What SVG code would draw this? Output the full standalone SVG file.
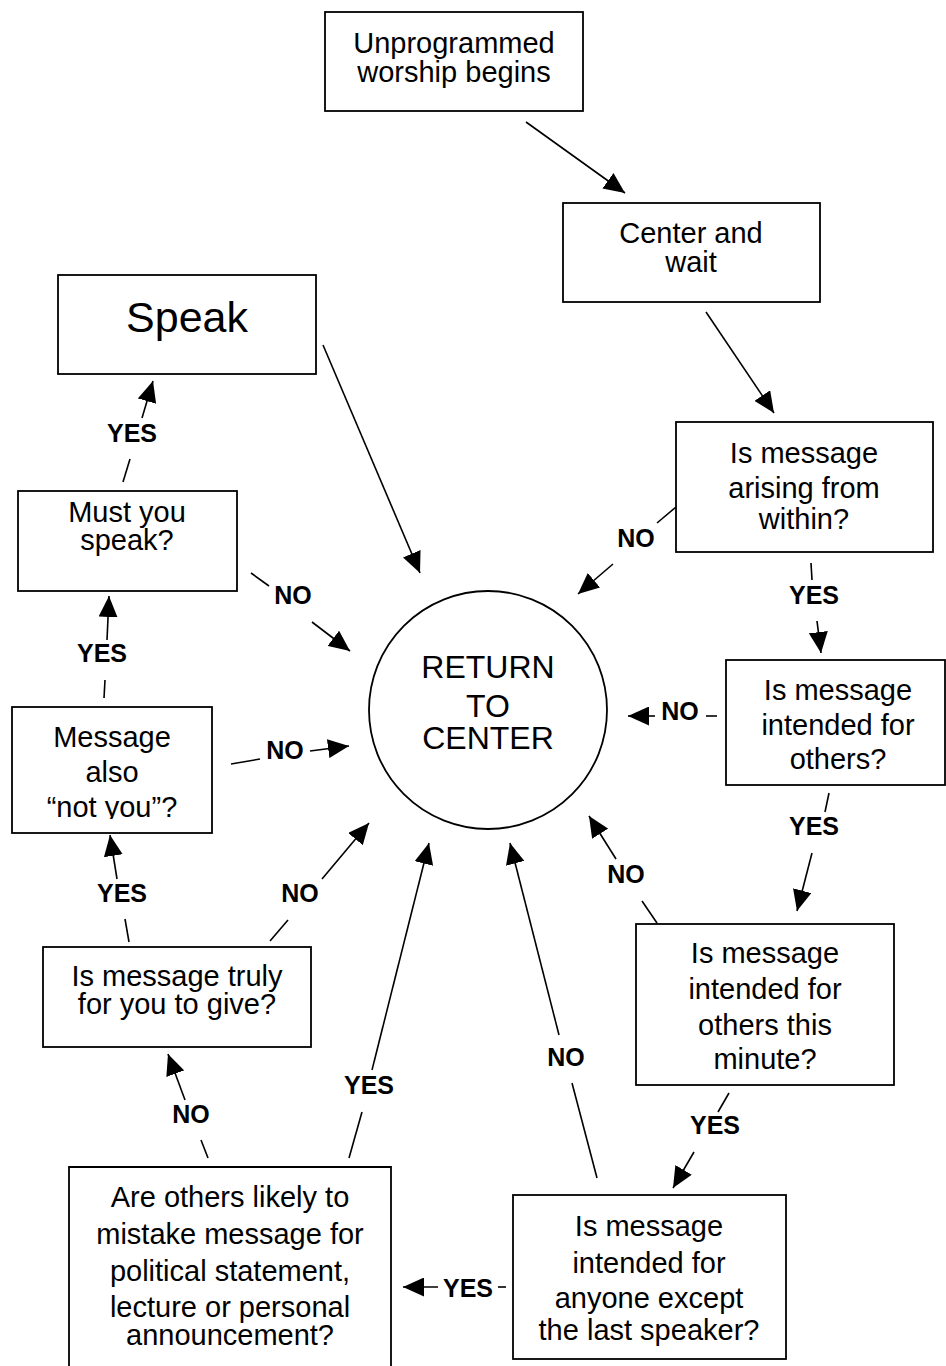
<svg xmlns="http://www.w3.org/2000/svg" width="946" height="1366" viewBox="0 0 946 1366">
<style>
.box{fill:#fff;stroke:#000;stroke-width:1.8}
.t{font-family:"Liberation Sans",Arial,Helvetica,sans-serif;font-size:29px;text-anchor:middle;fill:#000}
.lbl{font-family:"Liberation Sans",Arial,Helvetica,sans-serif;font-size:25px;font-weight:bold;text-anchor:middle;fill:#000}
.c line{stroke:#000;stroke-width:1.6}
.c line.a{marker-end:url(#ah)}
</style>
<defs>
<marker id="ah" markerUnits="userSpaceOnUse" markerWidth="21" markerHeight="19" refX="21" refY="9.5" orient="auto">
<path d="M0,0 L21,9.5 L0,19 Z" fill="#000"/>
</marker>
<clipPath id="clipMsg"><rect x="12" y="707" width="200" height="112"/></clipPath>
</defs>
<rect width="946" height="1366" fill="#fff"/>

<g id="start">
<rect class="box" x="325" y="12" width="258" height="99"/>
<text class="t" x="454" y="53">Unprogrammed</text>
<text class="t" x="454" y="82">worship begins</text>
</g>

<g id="center-wait">
<rect class="box" x="563" y="203" width="257" height="99"/>
<text class="t" x="691" y="243">Center and</text>
<text class="t" x="691" y="272">wait</text>
</g>

<g id="speak">
<rect class="box" x="58" y="275" width="258" height="99"/>
<text class="t" x="187" y="332" style="font-size:43px">Speak</text>
</g>

<g id="arising">
<rect class="box" x="676" y="422" width="257" height="130"/>
<text class="t" x="804" y="463">Is message</text>
<text class="t" x="804" y="498">arising from</text>
<text class="t" x="804" y="529">within?</text>
</g>

<g id="others">
<rect class="box" x="726" y="660" width="219" height="125"/>
<text class="t" x="838" y="700">Is message</text>
<text class="t" x="838" y="735">intended for</text>
<text class="t" x="838" y="769">others?</text>
</g>

<g id="must">
<rect class="box" x="18" y="491" width="219" height="100"/>
<text class="t" x="127" y="522">Must you</text>
<text class="t" x="127" y="550">speak?</text>
</g>

<g id="return">
<circle cx="488" cy="710" r="119" fill="#fff" stroke="#000" stroke-width="1.8"/>
<text class="t" x="488" y="678" style="font-size:32px">RETURN</text>
<text class="t" x="488" y="717" style="font-size:32px">TO</text>
<text class="t" x="488" y="749" style="font-size:32px">CENTER</text>
</g>

<g id="also-not-you">
<rect class="box" x="12" y="707" width="200" height="126"/>
<g clip-path="url(#clipMsg)">
<text class="t" x="112" y="747">Message</text>
<text class="t" x="112" y="782">also</text>
<text class="t" x="112" y="817">“not you”?</text>
</g>
</g>

<g id="truly">
<rect class="box" x="43" y="947" width="268" height="100"/>
<text class="t" x="177" y="986">Is message truly</text>
<text class="t" x="177" y="1014">for you to give?</text>
</g>

<g id="this-minute">
<rect class="box" x="636" y="924" width="258" height="161"/>
<text class="t" x="765" y="963">Is message</text>
<text class="t" x="765" y="999">intended for</text>
<text class="t" x="765" y="1035">others this</text>
<text class="t" x="765" y="1069">minute?</text>
</g>

<g id="last-speaker">
<rect class="box" x="513" y="1195" width="273" height="164"/>
<text class="t" x="649" y="1236">Is message</text>
<text class="t" x="649" y="1273">intended for</text>
<text class="t" x="649" y="1308">anyone except</text>
<text class="t" x="649" y="1340">the last speaker?</text>
</g>

<g id="mistake">
<path d="M69,1366 V1167 H391 V1366" fill="#fff" stroke="#000" stroke-width="1.8"/>
<text class="t" x="230" y="1207">Are others likely to</text>
<text class="t" x="230" y="1244">mistake message for</text>
<text class="t" x="230" y="1281">political statement,</text>
<text class="t" x="230" y="1317">lecture or personal</text>
<text class="t" x="230" y="1345">announcement?</text>
</g>

<g id="connectors" class="c">
<line class="a" x1="526" y1="122" x2="625" y2="193"/>
<line class="a" x1="706" y1="312" x2="774" y2="413"/>
<line class="a" x1="323" y1="345" x2="420" y2="573"/>

<line x1="676" y1="507" x2="657" y2="523"/>
<line class="a" x1="613" y1="564" x2="578" y2="594"/>

<line x1="811" y1="563" x2="812" y2="580"/>
<line class="a" x1="817" y1="621" x2="821" y2="653"/>

<line x1="717" y1="716" x2="706" y2="716"/>
<line class="a" x1="655" y1="716" x2="628" y2="716"/>

<line x1="829" y1="793" x2="825" y2="812"/>
<line class="a" x1="812" y1="853" x2="797" y2="911"/>

<line x1="657" y1="923" x2="642" y2="901"/>
<line class="a" x1="616" y1="859" x2="589" y2="816"/>

<line x1="729" y1="1093" x2="718" y2="1112"/>
<line class="a" x1="694" y1="1152" x2="673" y2="1188"/>

<line x1="597" y1="1178" x2="572" y2="1083"/>
<line class="a" x1="559" y1="1035" x2="510" y2="843"/>

<line x1="506" y1="1287" x2="498" y2="1287"/>
<line class="a" x1="438" y1="1287" x2="403" y2="1287"/>

<line x1="349" y1="1158" x2="362" y2="1112"/>
<line class="a" x1="372" y1="1070" x2="429" y2="843"/>

<line x1="208" y1="1158" x2="201" y2="1140"/>
<line class="a" x1="185" y1="1100" x2="168" y2="1054"/>

<line x1="129" y1="942" x2="125" y2="919"/>
<line class="a" x1="117" y1="879" x2="110" y2="835"/>

<line x1="270" y1="941" x2="288" y2="920"/>
<line class="a" x1="322" y1="879" x2="369" y2="823"/>

<line x1="104" y1="698" x2="105" y2="680"/>
<line class="a" x1="107" y1="640" x2="109" y2="596"/>

<line x1="231" y1="764" x2="260" y2="759"/>
<line class="a" x1="310" y1="751" x2="349" y2="746"/>

<line x1="123" y1="482" x2="130" y2="459"/>
<line class="a" x1="142" y1="418" x2="153" y2="381"/>

<line x1="251" y1="573" x2="269" y2="586"/>
<line class="a" x1="312" y1="622" x2="350" y2="651"/>
</g>

<g id="labels">
<text class="lbl" x="132" y="442">YES</text>
<text class="lbl" x="293" y="604">NO</text>
<text class="lbl" x="102" y="662">YES</text>
<text class="lbl" x="285" y="759">NO</text>
<text class="lbl" x="122" y="902">YES</text>
<text class="lbl" x="300" y="902">NO</text>
<text class="lbl" x="191" y="1123">NO</text>
<text class="lbl" x="369" y="1094">YES</text>
<text class="lbl" x="468" y="1297">YES</text>
<text class="lbl" x="566" y="1066">NO</text>
<text class="lbl" x="715" y="1134">YES</text>
<text class="lbl" x="626" y="883">NO</text>
<text class="lbl" x="814" y="835">YES</text>
<text class="lbl" x="680" y="720">NO</text>
<text class="lbl" x="814" y="604">YES</text>
<text class="lbl" x="636" y="547">NO</text>
</g>
</svg>
